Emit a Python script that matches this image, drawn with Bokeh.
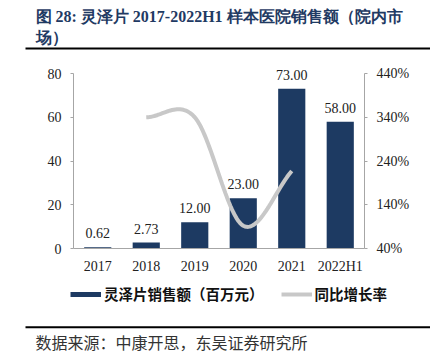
from bokeh.plotting import figure
from bokeh.layouts import column
from bokeh.models import (ColumnDataSource, Range1d, LinearAxis, FixedTicker, Label, LabelSet,
                          Legend, LegendItem, PrintfTickFormatter)
from bokeh.embed import file_html
from bokeh.resources import INLINE

# ---------------- data ----------------
categories = ["2017", "2018", "2019", "2020", "2021", "2022H1"]
sales = [0.62, 2.73, 12.00, 23.00, 73.00, 58.00]
sales_labels = ["0.62", "2.73", "12.00", "23.00", "73.00", "58.00"]
growth = [None, 340, 340, 92, 217, None]          # 同比增长率 (%)
left_ticks = [0, 20, 40, 60, 80]
right_ticks = [40, 140, 240, 340, 440]

title_line1 = "图  28:  灵泽片  2017-2022H1  样本医院销售额（院内市"
title_line2 = "场）"
source_text = "数据来源：中康开思，东吴证券研究所"
legend_bar = "灵泽片销售额（百万元）"
legend_line = "同比增长率"

# ---------------- styles ----------------
NAVY = "#1d3a62"
TITLE_NAVY = "#1f3a63"
GRAY_LINE = "#c8c8c8"
AXIS_GRAY = "#a6a6a6"
TXT = "#222222"
SERIF = "Liberation Serif"
CJK = "Noto Sans CJK SC"

W = 430
H_TOP, H_MAIN, H_BOT = 52, 226, 81
ML, MR, MB = 73, 66, 30
FRAME_H = H_MAIN - MB                  # 196 px
AXIS_PX = 175                          # pixel height of the 0..80 axis
y_end = left_ticks[-1] * FRAME_H / AXIS_PX
g_end = right_ticks[0] + (right_ticks[-1] - right_ticks[0]) * FRAME_H / AXIS_PX


def blank(height):
    f = figure(width=W, height=height, output_backend="svg", toolbar_location=None,
               x_range=Range1d(0, W), y_range=Range1d(height, 0),
               x_axis_location=None, y_axis_location=None, min_border=0,
               frame_align=False)
    f.outline_line_color = None
    f.grid.visible = False
    return f


# ---------------- top: title + rule ----------------
top = blank(H_TOP)
top.add_layout(Label(x=35, y=16, text=title_line1, text_font=SERIF, text_font_style="bold",
                     text_font_size="16px", text_color=TITLE_NAVY, text_baseline="middle"))
top.add_layout(Label(x=35, y=37, text=title_line2, text_font=SERIF, text_font_style="bold",
                     text_font_size="16px", text_color=TITLE_NAVY, text_baseline="middle"))
top.line(x=[25, W], y=[48, 48], line_color="black", line_width=2)

# ---------------- main chart ----------------
p = figure(width=W, height=H_MAIN, output_backend="svg", toolbar_location=None,
           x_range=Range1d(-0.5, len(categories) - 0.5), y_range=Range1d(0, y_end),
           min_border_left=ML, min_border_right=MR, min_border_top=0, min_border_bottom=MB,
           frame_align=False)
p.outline_line_color = None
p.grid.visible = False

xs = list(range(len(categories)))
src = ColumnDataSource(dict(x=xs, sales=sales, lbl=sales_labels))
p.vbar(x="x", top="sales", width=0.56, source=src, fill_color=NAVY, line_color=None)
p.add_layout(LabelSet(x="x", y="sales", text="lbl", source=src, text_align="center",
                      text_baseline="middle", y_offset=14, text_font_size="14px",
                      text_color=TXT, text_font={"value": SERIF}))

p.extra_y_ranges = {"g": Range1d(right_ticks[0], g_end)}

# smoothed growth curve (cubic Hermite / Catmull-Rom through the data points)
pts = [(i, g) for i, g in enumerate(growth) if g is not None]
n = len(pts)
tang = []
for k in range(n):
    if k == 0:
        tang.append(pts[1][1] - pts[0][1])
    elif k == n - 1:
        tang.append(pts[-1][1] - pts[-2][1])
    else:
        tang.append((pts[k + 1][1] - pts[k - 1][1]) / 2)
gx, gy = [], []
steps = 30
for k in range(n - 1):
    x0, y0 = pts[k]
    x1, y1 = pts[k + 1]
    for s in range(steps + (1 if k == n - 2 else 0)):
        t = s / steps
        h00 = 2 * t**3 - 3 * t**2 + 1
        h10 = t**3 - 2 * t**2 + t
        h01 = -2 * t**3 + 3 * t**2
        h11 = t**3 - t**2
        gx.append(x0 + (x1 - x0) * t)
        gy.append(h00 * y0 + h10 * tang[k] + h01 * y1 + h11 * tang[k + 1])
gl = p.line(gx, gy, y_range_name="g", line_color=GRAY_LINE, line_width=4)

# axes
p.xaxis.ticker = FixedTicker(ticks=xs)
p.xaxis.major_label_overrides = {i: c for i, c in enumerate(categories)}
p.xaxis.major_tick_out = 0
p.xaxis.major_tick_in = 0
p.xaxis.minor_tick_out = 0
p.xaxis.minor_tick_in = 0
p.xaxis.major_label_standoff = 10

p.yaxis.ticker = FixedTicker(ticks=left_ticks)
p.yaxis.bounds = (left_ticks[0], left_ticks[-1])

ra = LinearAxis(y_range_name="g", ticker=FixedTicker(ticks=right_ticks),
                formatter=PrintfTickFormatter(format="%d%%"),
                bounds=(right_ticks[0], right_ticks[-1]))
p.add_layout(ra, "right")

for ax in [p.yaxis[0], ra]:
    ax.minor_tick_out = 0
    ax.minor_tick_in = 0
    ax.major_tick_in = 0
    ax.major_tick_out = 3
    ax.major_label_standoff = 9
for ax in [p.xaxis[0], p.yaxis[0], ra]:
    ax.axis_line_color = AXIS_GRAY
    ax.major_tick_line_color = AXIS_GRAY
    ax.major_label_text_font = SERIF
    ax.major_label_text_font_size = "14px"
    ax.major_label_text_color = TXT

# ---------------- bottom: legend, rule, source ----------------
bot = blank(H_BOT)
# legend proxies (kept outside the visible frame)
d_bar = bot.line(x=[-20, -10], y=[-20, -20], line_color=NAVY, line_width=5)
d_line = bot.line(x=[-20, -10], y=[-20, -20], line_color=GRAY_LINE, line_width=4)
legend = Legend(items=[LegendItem(label=legend_bar, renderers=[d_bar]),
                       LegendItem(label=legend_line, renderers=[d_line])],
                orientation="horizontal", location=(70, 55),
                glyph_width=31, glyph_height=16, label_height=16, label_standoff=3,
                spacing=17, padding=0, margin=0, border_line_color=None,
                background_fill_alpha=0, label_text_font=CJK,
                label_text_font_style="bold", label_text_font_size="14.5px",
                label_text_color="#111111")
bot.add_layout(legend)
bot.line(x=[25, W], y=[48.7, 48.7], line_color="black", line_width=2)
bot.add_layout(Label(x=35, y=63.5, text=source_text, text_font=CJK, text_font_size="16px",
                     text_color="#333333", text_baseline="middle"))

layout = column(top, p, bot, spacing=0)
open("out.html", "w").write(file_html(layout, INLINE))
